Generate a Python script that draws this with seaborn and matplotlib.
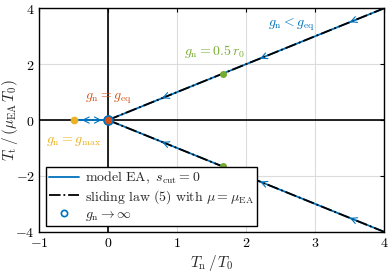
import numpy as np
import pandas as pd
import matplotlib
matplotlib.use("Agg")
import matplotlib.pyplot as plt
import seaborn as sns
from matplotlib.lines import Line2D

sns.set_style("white")
plt.rcParams["font.family"] = ["DejaVu Serif"]
plt.rcParams["mathtext.fontset"] = "cm"

BLUE = "#0072BD"
ORANGE = "#D95319"
YELLOW = "#EDB120"
GREEN = "#77AC30"

# data
ea_tn = [-0.5, 0.0, 4.0]
ea_tt_up = [0.0, 0.0, 4.0]
ea_tt_lo = [0.0, 0.0, -4.0]
slide_tn = [0.0, 4.0]
slide_up = [0.0, 4.0]
slide_lo = [0.0, -4.0]
arrow_tn = [0.83, 2.25, 3.55]
arrow_h = [-0.33, -0.14]
g05_tn = [1.66, 1.66]
g05_tt = [1.66, -1.66]
gmax = (-0.5, 0.0)
geq = (0.0, 0.0)

ea = pd.concat([
    pd.DataFrame({"tn": ea_tn, "tt": ea_tt_up, "branch": "up"}),
    pd.DataFrame({"tn": ea_tn, "tt": ea_tt_lo, "branch": "lo"}),
])
sl = pd.concat([
    pd.DataFrame({"tn": slide_tn, "tt": slide_up, "branch": "up"}),
    pd.DataFrame({"tn": slide_tn, "tt": slide_lo, "branch": "lo"}),
])

fig = plt.figure(figsize=(3.9, 2.76), dpi=100)
ax = fig.add_axes([0.1, 0.16, 0.885, 0.81])

ax.grid(True, color="#dcdcdc", lw=0.8, zorder=0)
ax.axhline(0, color="black", lw=1.2, zorder=1)
ax.axvline(0, color="black", lw=1.2, zorder=1)

sns.lineplot(data=ea, x="tn", y="tt", units="branch", estimator=None, sort=False,
             color=BLUE, lw=1.3, ax=ax, zorder=3)
sns.lineplot(data=sl, x="tn", y="tt", units="branch", estimator=None, sort=False,
             color="black", lw=1.3, ls="-.", ax=ax, zorder=4)

# direction arrows along the blue path
arr = dict(arrowstyle="->", color=BLUE, lw=0.8, mutation_scale=11, shrinkA=0, shrinkB=0)
for x in arrow_tn:
    for s in (1, -1):
        ax.annotate("", xy=(x - 0.05, s * (x - 0.05)), xytext=(x, s * x),
                    arrowprops=arr, zorder=5)
for x, d in zip(arrow_h, (-1, 1)):
    ax.annotate("", xy=(x + d * 0.05, 0), xytext=(x, 0), arrowprops=arr, zorder=5)

ax.plot(g05_tn, g05_tt, "o", color=GREEN, ms=4, zorder=6)
ax.plot(*gmax, "o", color=YELLOW, ms=4.5, zorder=6)
ax.plot(*geq, "o", mfc=ORANGE, mec=BLUE, mew=1.2, ms=6.5, zorder=6)

ax.text(2.65, 3.4, r"$g_\mathrm{n} < g_\mathrm{eq}$", color=BLUE, fontsize=10, ha="center", va="center")
ax.text(1.55, 2.45, r"$g_\mathrm{n} = 0.5\,r_0$", color=GREEN, fontsize=10, ha="center", va="center")
ax.text(0.0, 0.75, r"$g_\mathrm{n} = g_\mathrm{eq}$", color=ORANGE, fontsize=10, ha="center", va="center")
ax.text(-0.5, -0.75, r"$g_\mathrm{n} = g_\mathrm{max}$", color=YELLOW, fontsize=10, ha="center", va="center")

ax.set_xlim(-1, 4)
ax.set_ylim(-4, 4)
ax.set_xticks([-1, 0, 1, 2, 3, 4])
ax.set_yticks([-4, -2, 0, 2, 4])
ax.set_xticklabels([r"$\mathrm{-1}$", "$0$", "$1$", "$2$", "$3$", "$4$"])
ax.set_yticklabels([r"$\mathrm{-4}$", r"$\mathrm{-2}$", "$0$", "$2$", "$4$"])
ax.tick_params(direction="in", length=3, width=0.8, top=True, right=True,
               labelsize=10, colors="black", pad=3)
for sp in ax.spines.values():
    sp.set_color("black")
    sp.set_linewidth(1.0)
ax.set_xlabel(r"$T_\mathrm{n}\,/\,T_0$", fontsize=11)
ax.set_ylabel(r"$T_\mathrm{t}\,/\,(\mu_\mathrm{EA}\,T_0)$", fontsize=11)
ax.xaxis.set_label_coords(0.5, -0.095)
ax.yaxis.set_label_coords(-0.055, 0.5)

handles = [
    Line2D([], [], color=BLUE, lw=1.3),
    Line2D([], [], color="black", lw=1.3, ls="-."),
    Line2D([], [], color=BLUE, ls="none", marker="o", mfc="none", mew=1.2, ms=4.5),
]
labels = [
    r"$\mathrm{model\ EA,}\ s_\mathrm{cut} = 0$",
    r"$\mathrm{sliding\ law\ (5)\ with}\ \mu = \mu_\mathrm{EA}$",
    r"$g_\mathrm{n} \to \infty$",
]
leg = ax.legend(handles, labels, loc="lower left", bbox_to_anchor=(0.02, 0.027),
                fontsize=10, frameon=True, fancybox=False, framealpha=1,
                edgecolor="black", handlelength=2.2, handletextpad=0.4,
                borderpad=0.2, labelspacing=0.1, borderaxespad=0)
leg.get_frame().set_linewidth(1.0)
leg.set_zorder(10)

fig.savefig("out.png", dpi=100)
